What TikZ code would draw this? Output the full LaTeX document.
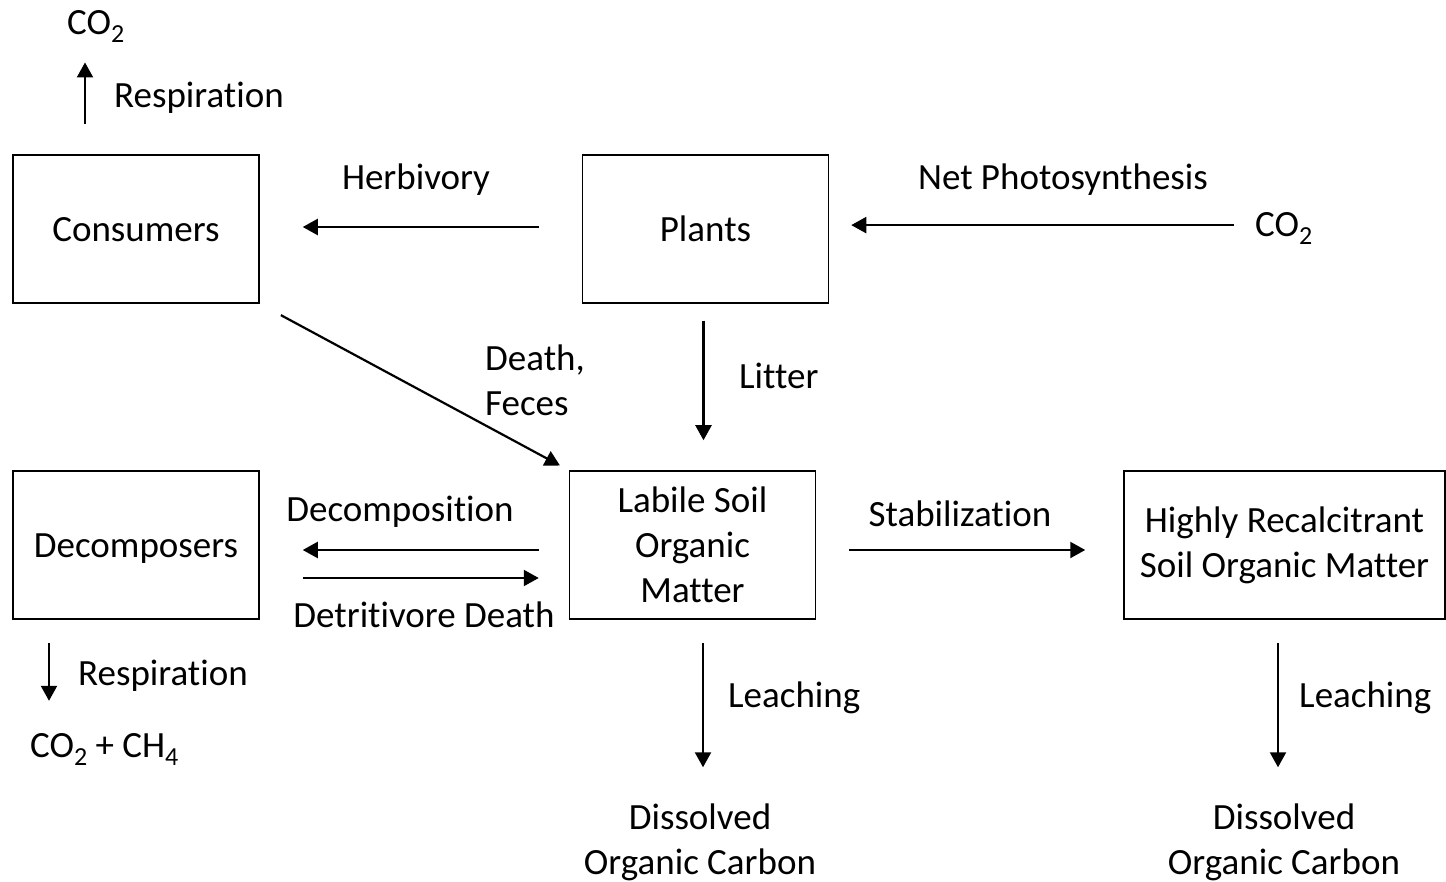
\documentclass[tikz,border=0pt]{standalone}
\usepackage{fontspec}
\setmainfont{Carlito}[RawFeature={-liga;-clig}]
\usetikzlibrary{arrows.meta}
\tikzset{
 pool/.style={draw, line width=1.5pt, minimum width=246pt, minimum height=148pt, align=center, inner sep=0pt},
 oneline/.style={text height=25pt, text depth=0pt},
 flow/.style={line width=2.2pt, -{Triangle[length=15pt,width=16pt]}},
 lbl/.style={inner sep=0pt, align=left}
}
\newcommand{\lowidx}[1]{\smash{\raisebox{-8pt}{\fontsize{26}{26}\selectfont #1}}}
\begin{document}
\begin{tikzpicture}[x=1pt,y=-1pt,font=\fontsize{37}{45}\selectfont]
 \useasboundingbox (0,0) rectangle (1446,882);
 % pools
 \node[pool,oneline] (consumers) at (136,229) {Consumers};
 \node[pool,oneline] (plants) at (705.5,229) {Plants};
 \node[pool,oneline] (decomposers) at (136,545) {Decomposers};
 \node[pool] (labile) at (692.5,545) {Labile Soil\\Organic\\Matter};
 \node[pool,minimum width=321pt] (recalc) at (1284.5,545) {Highly Recalcitrant\\Soil Organic Matter};
 % outside
 \node[lbl,anchor=base west] (co2up) at (67,35) {CO\lowidx{2}};
 \node[lbl,anchor=base west] (co2in) at (1255,237) {CO\lowidx{2}};
 \node[lbl,anchor=base west] (gas) at (30,757) {CO\lowidx{2} + CH\lowidx{4}};
 \node[lbl,align=center] (doc1) at (700,842) {Dissolved\\Organic Carbon};
 \node[lbl,align=center] (doc2) at (1284,842) {Dissolved\\Organic Carbon};
 % labels
 \node[lbl,anchor=base west] (resp1) at (114,108) {Respiration};
 \node[lbl,anchor=base] (herb) at (416,190) {Herbivory};
 \node[lbl,anchor=base] (photo) at (1063,190) {Net Photosynthesis};
 \node[lbl,anchor=base west] (litter) at (739,389) {Litter};
 \node[lbl,anchor=west] (feces) at (485,380) {Death,\\Feces};
 \node[lbl,anchor=base] (decomp) at (400,521) {Decomposition};
 \node[lbl,anchor=base] (detr) at (424,627) {Detritivore Death};
 \node[lbl,anchor=base] (stab) at (960,526) {Stabilization};
 \node[lbl,anchor=base west] (resp2) at (78,685) {Respiration};
 \node[lbl,anchor=base west] (leach1) at (728,707) {Leaching};
 \node[lbl,anchor=base west] (leach2) at (1299,707) {Leaching};
 % flows
 \draw[flow,shorten <=30pt,shorten >=27pt] ([xshift=-51pt]consumers.north) -- ([xshift=-51pt]consumers.north |- co2up.south);
 \draw[flow,shorten <=43pt,shorten >=43pt] ([yshift=2pt]plants.west) -- ([yshift=2pt]consumers.east);
 \draw[flow,shorten <=21pt,shorten >=22pt] (co2in.west) -- (co2in.west -| plants.east);
 \draw[flow,shorten <=17pt,shorten >=30pt] ([xshift=-2pt]plants.south) -- ([xshift=-2pt]plants.south |- labile.north);
 \draw[flow,shorten <=24pt,shorten >=10pt] (consumers.south east) -- (labile.north west);
 \draw[flow,shorten <=30pt,shorten >=43pt] ([yshift=-5pt]labile.west) -- ([yshift=-5pt]decomposers.east);
 \draw[flow,shorten <=43pt,shorten >=30pt] ([yshift=-33pt]decomposers.east) -- ([yshift=-33pt]labile.west);
 \draw[flow,shorten <=33pt,shorten >=38pt] ([yshift=-5pt]labile.east) -- ([yshift=-5pt]recalc.west);
 \draw[flow,shorten <=23pt,shorten >=32pt] ([xshift=-87pt]decomposers.south) -- ([xshift=-87pt]decomposers.south |- gas.north);
 \draw[flow,shorten <=23pt,shorten >=36pt] ([xshift=10.5pt]labile.south) -- ([xshift=10.5pt]labile.south |- doc1.north);
 \draw[flow,shorten <=23pt,shorten >=36pt] ([xshift=-6.5pt]recalc.south) -- ([xshift=-6.5pt]recalc.south |- doc2.north);
\end{tikzpicture}
\end{document}
